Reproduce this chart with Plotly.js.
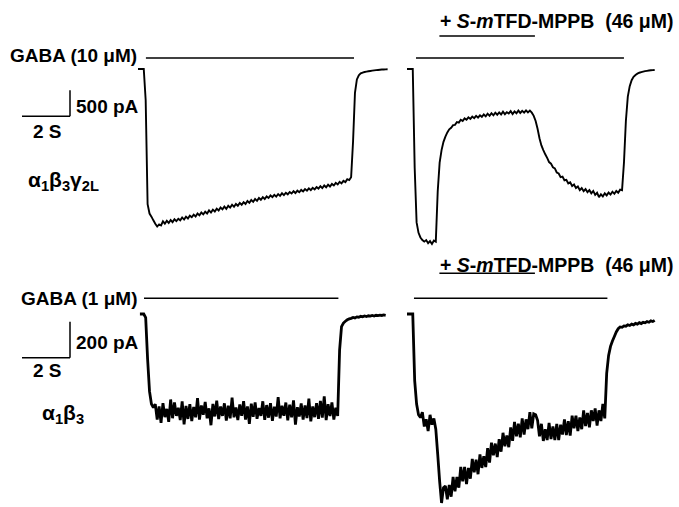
<!DOCTYPE html>
<html>
<head>
<meta charset="utf-8">
<script src="https://cdn.plot.ly/plotly-3.0.1.min.js"></script>
<style>html,body{margin:0;padding:0;background:#fff;}#chart{width:679px;height:507px;}</style>
</head>
<body>
<div id="chart"></div>
<script>
// ---------- DATA (time in s, current in pA; sampling interval dt) ----------
const dt = 0.08;
// alpha1beta3gamma2L, GABA 10 uM (left) ; + S-mTFD-MPPB (right)
const curG2Control = [0,0,0,0,-600,-2600,-2780,-2840,-2910,-2975,-3030,-2990,-3010,
-2930,-2975,-2920,-2960,-2905,-2945,-2890,-2925,-2880,-2910,-2855,-2895,-2840,-2875,-2820,-2850,-2800,-2835,-2780,-2815,-2760,-2795,-2745,-2780,-2720,-2760,-2705,-2740,-2685,-2720,-2665,-2700,-2645,-2690,-2630,-2665,-2610,-2650,-2595,-2630,-2575,-2610,-2560,-2595,-2540,-2575,-2520,-2555,-2500,-2535,-2480,-2515,-2465,-2500,-2450,-2480,-2430,-2465,-2420,-2455,-2405,-2440,-2390,-2425,-2380,-2410,-2365,-2395,-2350,-2385,-2340,-2370,-2325,-2355,-2310,-2340,-2295,-2330,-2285,-2315,-2270,-2300,-2255,-2290,-2240,-2275,-2225,-2260,-2210,-2240,-2190,-2220,-2170,-2200,-2150,-2175,-2120,-2135,
-2080,-1400,-460,-200,-120,-85,-68,-58,-50,-44,-38,-32,-27,-22,-18,-14,-11,-9,-7,-6];
const curG2Drug = [0,0,0,0,-1900,-2950,-3150,-3240,-3290,-3320,-3290,-3350,-3310,-3365,-3300,-3320,
-2350,-1800,-1560,-1400,-1300,-1220,-1160,-1130,-1080,-1075,-1020,-1030,-975,-1000,-950,-975,-930,-960,-915,-945,-900,-935,-890,-920,-875,-910,-860,-900,-850,-890,-840,-880,-835,-875,-820,-870,-830,-855,-810,-865,-815,-850,-800,-845,-805,-840,-795,-835,-800,-840,
-900,-1000,-1150,-1330,-1470,-1560,-1640,-1710,-1790,-1820,-1890,-1910,-1990,-2010,-2080,-2070,-2140,-2130,-2200,-2180,-2250,-2220,-2290,-2260,-2330,-2290,-2350,-2310,-2370,-2330,-2390,-2345,-2420,-2380,-2465,-2410,-2450,-2390,-2430,-2375,-2415,-2360,-2400,-2345,-2380,-2320,-2330,
-1800,-1000,-530,-330,-215,-150,-115,-90,-72,-60,-50,-42,-36,-30,-25,-21,-18];
// alpha1beta3, GABA 1 uM (left) ; + S-mTFD-MPPB (right)
const curB3Control = [0,0,0,-20,-250,-430,-500,-520,
-501,-586,-514,-605,-495,-573,-527,-599,-475,-579,-491,-566,-521,-589,-485,-613,-511,-583,-501,-595,-517,-574,-467,-587,-508,-560,-488,-579,-524,-618,-500,-569,-482,-584,-514,-566,-496,-592,-509,-580,-465,-574,-519,-589,-502,-566,-484,-586,-513,-610,-498,-571,-491,-582,-522,-566,-485,-588,-506,-576,-495,-593,-515,-570,-462,-580,-510,-565,-492,-591,-504,-574,-480,-615,-518,-569,-497,-587,-508,-578,-470,-596,-514,-573,-495,-582,-483,-575,-457,-589,-501,-567,-491,-586,-521,
-566,-200,-70,-50,-40,-32,-27,-24,-19,-22,-16,-18,-13,-16,-11,-14,-10,-12,-8,-11,-7,-9,-6,-8,-5,-7];
const curB3Drug = [0,0,0,0,-370,-500,-560,
-575,-545,-625,-585,-650,-560,-615,-580,-640,
-780,-930,-1050,-965,
-955,-1030,-950,-1015,-905,-985,-905,-965,-850,-930,-850,-945,-855,-915,-805,-880,-810,-890,-780,-855,-790,-850,-745,-825,-715,-785,-720,-795,-695,-765,-660,-735,-675,-740,-630,-705,-600,-680,-610,-685,-580,-670,-585,-640,-545,-635,-555,-560,
-590,-680,-610,-705,-640,-700,-605,-695,-625,-700,-610,-700,-615,-670,-585,-672,-595,-675,-565,-635,-565,-650,-575,-640,-535,-622,-550,-630,-535,-595,-525,-620,-535,-595,-500,-580,
-330,-230,-180,-150,-125,-100,-82,-72,-74,-66,-68,-60,-64,-56,-60,-52,-56,-48,-53,-46,-49,-42,-46,-38,-42,-35];
const startTimes = [0, 0, 0.08, 0];            // s, first sample of each record
// application bars [on, off] in s
const gabaTopLeft = [0.33, 9.0];
const gabaTopRight = [0.375, 9.04];
const gabaBotLeft = [0.25, 8.35];
const gabaBotRight = [0.29, 8.35];
const drugWindow = [1.35, 5.33];
// scale bars
const scaleTime = 2;          // s
const scaleTopCurrent = 500;  // pA
const scaleBotCurrent = 200;  // pA
// labels
const labels = {
  gabaTop: 'GABA (10 μM)', gabaBot: 'GABA (1 μM)',
  drug: '+ <i>S</i>-<i>m</i>TFD-MPPB\u00a0\u00a0(46 μM)',
  recTop: 'α<sub>1</sub>β<sub>3</sub>γ<sub>2L</sub>', recBot: 'α<sub>1</sub>β<sub>3</sub>'
};

// ---------- LAYOUT (pixel helpers) ----------
const W = 679, H = 507;
const fx = x => x / W, fy = y => 1 - y / H;
const colSplit = 398, rowSplit = 253;
const pxPerS = 24;
const topPaPerPx = 500 / 26, botPaPerPx = 200 / 36;
const topBase = 69, botBase = 314;
const leftT0 = 138, rightT0 = 407;

function xr(t0, a, b){ return [(a - t0) / pxPerS, (b - t0) / pxPerS]; }
function yr(base, s, top, bot){ return [(base - bot) * s, (base - top) * s]; }

const hidden = {visible:false, fixedrange:true};
const layout = {
  width: W, height: H, margin:{l:0,r:0,t:0,b:0},
  paper_bgcolor:'#ffffff', plot_bgcolor:'rgba(0,0,0,0)', showlegend:false,
  xaxis: Object.assign({domain:[0, fx(colSplit)], range: xr(leftT0, 0, colSplit), anchor:'y'}, hidden),
  yaxis: Object.assign({domain:[fy(rowSplit), 1], range: yr(topBase, topPaPerPx, 0, rowSplit), anchor:'x'}, hidden),
  xaxis2: Object.assign({domain:[fx(colSplit), 1], range: xr(rightT0, colSplit, W), anchor:'y2'}, hidden),
  yaxis2: Object.assign({domain:[fy(rowSplit), 1], range: yr(topBase, topPaPerPx, 0, rowSplit), anchor:'x2'}, hidden),
  xaxis3: Object.assign({domain:[0, fx(colSplit)], range: xr(leftT0, 0, colSplit), anchor:'y3'}, hidden),
  yaxis3: Object.assign({domain:[0, fy(rowSplit)], range: yr(botBase, botPaPerPx, rowSplit, H), anchor:'x3'}, hidden),
  xaxis4: Object.assign({domain:[fx(colSplit), 1], range: xr(rightT0, colSplit, W), anchor:'y4'}, hidden),
  yaxis4: Object.assign({domain:[0, fy(rowSplit)], range: yr(botBase, botPaPerPx, rowSplit, H), anchor:'x4'}, hidden),
  shapes: [], annotations: []
};

function hline(xref, yref, x0, x1, y){ layout.shapes.push({type:'line', xref, yref, x0, x1, y0:y, y1:y, line:{color:'#000', width:1.5}}); }
function vline(xref, yref, x, y0, y1){ layout.shapes.push({type:'line', xref, yref, x0:x, x1:x, y0, y1, line:{color:'#000', width:1.5}}); }

// application bars (y levels in pA of each panel)
hline('x','y', gabaTopLeft[0], gabaTopLeft[1], (topBase-58)*topPaPerPx);
hline('x2','y2', gabaTopRight[0], gabaTopRight[1], (topBase-58)*topPaPerPx);
hline('x2','y2', drugWindow[0], drugWindow[1], (topBase-36)*topPaPerPx);
hline('x3','y3', gabaBotLeft[0], gabaBotLeft[1], (botBase-298.3)*botPaPerPx);
hline('x4','y4', gabaBotRight[0], gabaBotRight[1], (botBase-298.3)*botPaPerPx);
hline('x4','y4', drugWindow[0], drugWindow[1], (botBase-273.3)*botPaPerPx);
// scale bars
const sbX0 = (22 - leftT0) / pxPerS;
const sbTopY = (topBase - 116.3) * topPaPerPx;
hline('x','y', sbX0, sbX0 + scaleTime, sbTopY);
vline('x','y', sbX0 + scaleTime, sbTopY, sbTopY + scaleTopCurrent);
const sbBotY = (botBase - 357.7) * botPaPerPx;
hline('x3','y3', sbX0, sbX0 + scaleTime, sbBotY);
vline('x3','y3', sbX0 + scaleTime, sbBotY, sbBotY + scaleBotCurrent);

const font = {family:'Liberation Sans, Arial, sans-serif', size:19, color:'#000', weight:'bold'};
function label(text, x, y, xanchor, size){
  layout.annotations.push({text:'<b>'+text+'</b>', xref:'paper', yref:'paper', x:fx(x), y:fy(y),
    xanchor, yanchor:'middle', showarrow:false, borderpad:0,
    font:Object.assign({}, font, size ? {size} : {})});
}
label(labels.gabaTop, 138, 55, 'right');
label('500 pA', 75, 107, 'left');
label('2 S', 47.5, 131, 'center');
label(labels.recTop, 27, 181, 'left', 21);
label(labels.drug, 439, 21, 'left', 19.5);
label(labels.gabaBot, 138, 298, 'right');
label('200 pA', 75, 342, 'left');
label('2 S', 47.5, 370, 'center');
label(labels.recBot, 41, 414, 'left', 21);
label(labels.drug, 439, 265, 'left', 19.5);

function rec(y, x0, xa, ya, w){
  return {type:'scatter', mode:'lines', y, x0, dx:dt, xaxis:xa, yaxis:ya,
    line:{color:'#000', width:w, simplify:false}, hoverinfo:'skip'};
}
const data = [
  rec(curG2Control, startTimes[0], 'x', 'y', 1.9),
  rec(curG2Drug, startTimes[1], 'x2', 'y2', 1.9),
  rec(curB3Control, startTimes[2], 'x3', 'y3', 2.8),
  rec(curB3Drug, startTimes[3], 'x4', 'y4', 2.8)
];
Plotly.newPlot('chart', data, layout, {staticPlot:true, displayModeBar:false});
</script>
</body>
</html>
